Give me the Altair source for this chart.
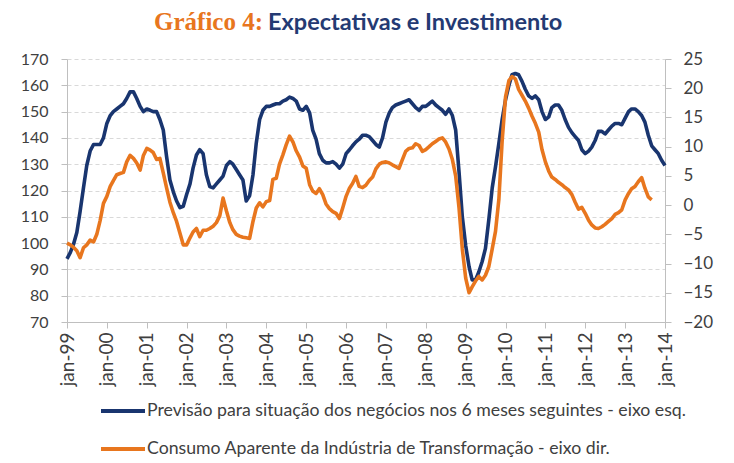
import altair as alt
import pandas as pd

# ---- data (monthly, starting jan-1999) ----
previsao = [
    94, 96.5, 99.5, 104, 112, 121, 129.5, 135, 137.5, 137.5, 137.5, 140,
    145.5, 148.5, 150, 151, 152, 153, 155, 157.5, 157.5, 155, 152, 150,
    151, 150.5, 150, 150, 147, 143, 133, 124, 119.5, 116, 113.5, 114,
    118.5, 122.5, 128.5, 133.5, 135.5, 134, 126, 121.5, 121, 122.5, 124, 125.5,
    129.5, 131, 130, 128, 126, 124, 116, 118, 126, 138, 147, 150.5,
    152, 152, 152.5, 153, 153, 154, 154.5, 155.5, 155, 154, 151, 150.5,
    152, 149.5, 143, 139.5, 134, 131.5, 130.5, 130.5, 131, 130, 128.5, 130,
    134, 135.5, 137, 138.5, 139.5, 141, 141, 140.5, 139, 137.5, 136.5, 140,
    146, 149.5, 151.5, 152.5, 153, 153.5, 154, 154.5, 153, 151.5, 150.5, 152,
    152, 153, 154, 152.5, 151.5, 150.5, 149, 151, 148.5, 143, 127, 110,
    99, 91, 86, 86, 89, 93, 98, 109, 121, 129, 138, 147,
    154.5, 160, 164, 164.5, 164, 161.5, 158.5, 156, 155, 156, 154.5, 150,
    147, 148, 151.5, 152.5, 152.5, 150.5, 147, 144, 142, 140.5, 139, 135.5,
    134, 135, 136.5, 139, 142.5, 142.5, 141.5, 143, 144.5, 145.5, 145.5, 145,
    147.5, 150, 151, 151, 150, 148.5, 146, 141, 137, 135.5, 134, 131.5,
    129.5,
]
consumo = [
    -6.5, -6.8, -7.2, -7.8, -9, -7.3, -6.8, -6, -6.3, -5, -2.6, 0.3,
    1.5, 3.2, 4.2, 5.2, 5.4, 5.6, 7.4, 8.5, 8, 7.2, 6, 8.5,
    9.7, 9.4, 9, 7.8, 8, 5.5, 3, 0.5, -1.3, -2.8, -4.8, -6.8,
    -6.8, -5.6, -4.6, -4, -5.4, -4.3, -4.3, -4, -3.6, -3, -1.8, 1.2,
    -1, -3, -4.2, -5, -5.3, -5.5, -5.6, -5.7, -2.8, -0.5, 0.4, -0.3,
    0.6, 0.8, 4.4, 4.6, 7, 8.6, 10.3, 11.8, 10.8, 9.3, 8.2, 6.7,
    6.3, 3.5, 2.4, 2, 2.8, 1.8, 0.2, -0.6, -1.1, -1.4, -2.3, -0.5,
    1.5, 2.9, 3.7, 4.9, 3.2, 3, 3.4, 4.2, 4.8, 6.2, 7, 7.3,
    7.4, 7.2, 6.9, 6.6, 6.3, 7.8, 9.2, 9.7, 9.8, 10.5, 10.2, 9.2,
    9.5, 10, 10.5, 10.9, 11.3, 11.5, 10.8, 9.6, 7.8, 5, -0.5, -7.5,
    -12.5, -15, -14, -13, -12.2, -12.8, -12, -10.5, -7.5, -4.5, 1, 11,
    18.5, 21.3, 22, 21.6, 19.8, 18.8, 17.8, 16.6, 15.2, 14, 12.5, 9.5,
    7.4, 5.8, 4.8, 4.4, 3.9, 3.5, 3, 2.6, 1.8, 0.5, -0.7, -0.4,
    -1.4, -2.6, -3.4, -3.9, -4, -3.7, -3.3, -2.8, -2.3, -1.6, -1.3, -0.8,
    0.9, 2, 2.8, 3.2, 4, 4.7, 2.9, 1.4, 0.9,
]
series_names = [
    "Previsão para situação dos negócios nos 6 meses seguintes - eixo esq.",
    "Consumo Aparente da Indústria de Transformação - eixo dir.",
]
series_colors = ["#19356F", "#E8761E"]
title_parts = ["Gráfico 4:", "Expectativas e Investimento"]
title_colors = ["#E8761E", "#243A73"]
left_ticks = list(range(70, 171, 10))
right_ticks = list(range(-20, 26, 5))
years = list(range(1999, 2015))

months = pd.date_range("1999-01-01", periods=181, freq="MS")
df_b = pd.DataFrame({"date": months[:len(previsao)], "v": previsao, "s": series_names[0]})
df_o = pd.DataFrame({"date": months[:len(consumo)], "v": consumo, "s": series_names[1]})

FONT = "Lato"
GRID = "#D9D9D9"
AX = "#BFBFBF"
TXT = "#404040"

xscale = alt.Scale(domain=[alt.DateTime(year=1999, month=1, date=1),
                           alt.DateTime(year=2014, month=1, date=1)], nice=False)
xaxis = alt.Axis(
    values=[alt.DateTime(year=y, month=1, date=1) for y in years],
    labelExpr="'jan-' + timeFormat(datum.value, '%y')",
    labelAngle=270, labelFontSize=19, labelPadding=4, tickSize=6,
    domainColor=AX, tickColor=AX, grid=False, title=None, labelFont=FONT,
    labelColor=TXT,
)
cscale = alt.Scale(domain=series_names, range=series_colors)

left = alt.Chart(df_b).mark_line(strokeWidth=3.6, strokeJoin="round").encode(
    x=alt.X("date:T", scale=xscale, axis=xaxis),
    y=alt.Y("v:Q", scale=alt.Scale(domain=[70, 170], nice=False, zero=False),
            axis=alt.Axis(orient="left", values=left_ticks, grid=True,
                          gridColor=GRID, gridDash=[4, 3], tickSize=6,
                          tickColor=AX, domainColor=AX, labelFontSize=16,
                          labelPadding=13, labelFont=FONT,
                          labelColor=TXT, title=None)),
    color=alt.Color("s:N", scale=cscale, legend=None),
)
right = alt.Chart(df_o).mark_line(strokeWidth=3.6, strokeJoin="round").encode(
    x=alt.X("date:T", scale=xscale, axis=xaxis),
    y=alt.Y("v:Q", scale=alt.Scale(domain=[-20, 25], nice=False, zero=False),
            axis=alt.Axis(orient="right", values=right_ticks, grid=False,
                          tickSize=6, tickColor=AX, domainColor=AX,
                          labelFontSize=17, labelPadding=12, labelFont=FONT,
                          labelColor=TXT, title=None)),
    color=alt.Color("s:N", scale=cscale, legend=None),
)

# ---- legend (drawn by hand, below the axis labels) ----
leg_rows = [352, 390]
legend_layers = []
for name, col, yy in zip(series_names, series_colors, leg_rows):
    d = pd.DataFrame({"t": [name]})
    legend_layers.append(
        alt.Chart(d).mark_rule(strokeWidth=4, color=col).encode(
            x=alt.value(34), x2=alt.value(78), y=alt.value(yy)))
    legend_layers.append(
        alt.Chart(d).mark_text(align="left", baseline="middle", font=FONT,
                               fontSize=17.7, color=TXT).encode(
            text="t:N", x=alt.value(80), y=alt.value(yy)))

t1 = alt.Chart(pd.DataFrame({"t": [title_parts[0]]})).mark_text(
    align="right", baseline="middle", font="Liberation Serif", fontSize=25,
    fontWeight="bold", color=title_colors[0]).encode(
    text="t:N", x=alt.value(196), y=alt.value(-37))
t2 = alt.Chart(pd.DataFrame({"t": [title_parts[1]]})).mark_text(
    align="left", baseline="middle", font=FONT, fontSize=23.5,
    fontWeight="bold", color=title_colors[1]).encode(
    text="t:N", x=alt.value(201), y=alt.value(-36))

chart = alt.layer(left, right, *legend_layers, t1, t2).resolve_scale(
    y="independent").properties(
    width=598, height=263,
    padding={"left": 59, "top": 51, "right": 61, "bottom": 139},
    autosize=alt.AutoSizeParams(type="none"),
).configure_view(stroke=None)

chart.save("out.html", embed_options={"renderer": "svg", "actions": False})
